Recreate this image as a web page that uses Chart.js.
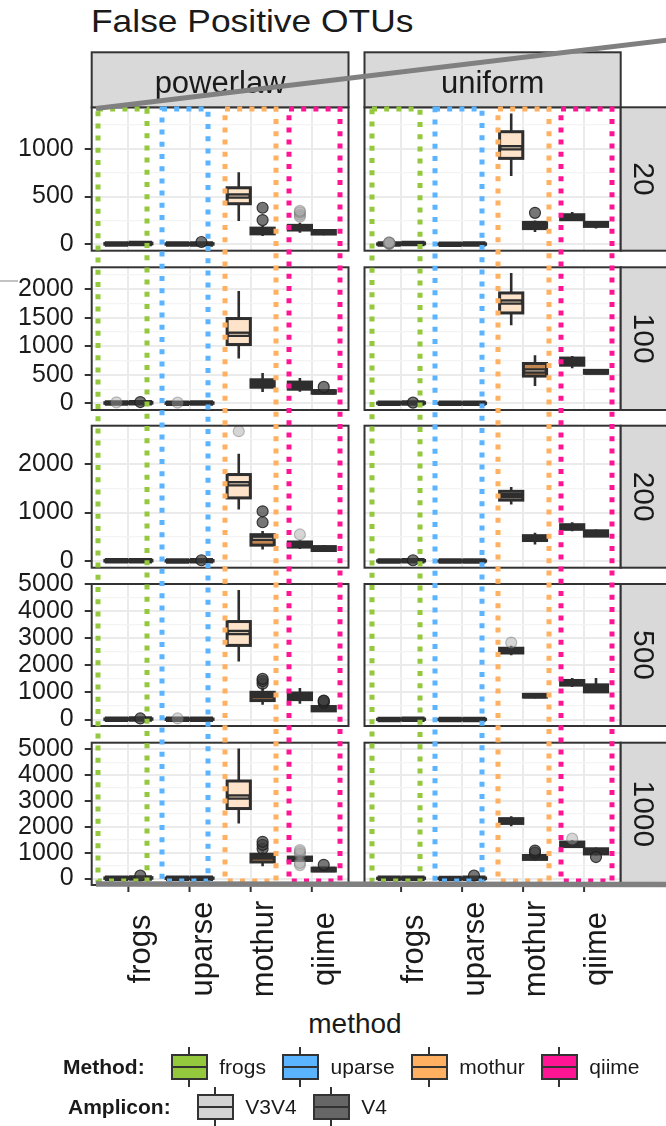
<!DOCTYPE html>
<html>
<head>
<meta charset="utf-8">
<script src="https://cdn.jsdelivr.net/npm/chart.js@4.4.1/dist/chart.umd.min.js"></script>
<style>
  body { margin: 0; background: #fff; width: 666px; height: 1126px; overflow: hidden; position: relative;
         font-family: 'Liberation Sans', Arial, sans-serif; color: #1a1a1a; }
  canvas { position: absolute; }
  #title { position: absolute; left: 90.5px; top: 6px; font-size: 30.5px; line-height: 1; white-space: nowrap;
           transform: scaleX(1.16); transform-origin: left top; }
  #xtitle { position: absolute; left: 355px; top: 1010px; font-size: 28px; line-height: 1; transform: translateX(-50%); }
  .lrow { position: absolute; display: flex; align-items: center; height: 26px; font-size: 21px; line-height: 26px; white-space: nowrap; }
  .lrow b { margin-right: 26px; }
  .key { position: relative; width: 37px; height: 26px; box-sizing: border-box; border: 2px solid #333; margin-right: 11.6px; }
  .key::before { content: ''; position: absolute; left: 0; right: 0; top: 50%; height: 2px; margin-top: -1px; background: #333; }
  .key::after { content: ''; position: absolute; left: 50%; width: 2px; margin-left: -1px; top: -9px; bottom: -9px;
                background: linear-gradient(#333 7px, transparent 7px, transparent calc(100% - 7px), #333 calc(100% - 7px)); }
  .lrow span.lab { margin-right: 16px; }
</style>
</head>
<body>
<div id="title">False Positive OTUs</div>
<div id="xtitle">method</div>
<script>
const methods = ['frogs', 'uparse', 'mothur', 'qiime'];
const distributions = ['powerlaw', 'uniform'];
const depths = ['20', '100', '200', '500', '1000'];
const amplicons = ['V3V4', 'V4'];

// y axis per depth row
const yLimits = [[-66, 1433], [-114, 2384], [-133, 2783], [-238, 5000], [-250, 5250]];
const yMajorTicks = [
  [0, 500, 1000],
  [0, 500, 1000, 1500, 2000],
  [0, 1000, 2000],
  [0, 1000, 2000, 3000, 4000, 5000],
  [0, 1000, 2000, 3000, 4000, 5000]
];

// box stats [lower whisker, q1, median, q3, upper whisker], rows = depths, cols = methods
const powerlawV3V4 = [
  [[0, 2, 5, 9, 15], [0, 1, 3, 6, 10], [244, 425, 505, 592, 755], [122, 150, 175, 199, 227]],
  [[0, 3, 8, 14, 25], [0, 2, 6, 10, 18], [787, 1032, 1210, 1487, 1970], [205, 250, 320, 375, 445]],
  [[0, 3, 8, 14, 25], [0, 2, 6, 10, 18], [1060, 1300, 1590, 1780, 2205], [250, 290, 345, 395, 430]],
  [[0, 5, 12, 20, 40], [0, 3, 8, 15, 30], [2145, 2735, 3210, 3615, 4780], [580, 735, 860, 980, 1165]],
  [[0, 5, 12, 22, 45], [0, 4, 10, 18, 35], [2125, 2705, 3150, 3770, 5025], [650, 700, 760, 830, 880]]
];
const powerlawV4 = [
  [[2, 5, 9, 13, 22], [0, 2, 5, 8, 14], [87, 110, 139, 170, 191], [95, 108, 128, 145, 155]],
  [[2, 6, 12, 20, 35], [0, 3, 7, 12, 20], [203, 285, 350, 415, 535], [165, 180, 200, 225, 240]],
  [[2, 6, 12, 20, 35], [0, 3, 8, 14, 25], [240, 330, 470, 545, 620], [190, 220, 260, 300, 335]],
  [[5, 10, 18, 28, 45], [0, 5, 10, 18, 30], [550, 700, 880, 1005, 1180], [300, 320, 400, 480, 560]],
  [[5, 12, 22, 35, 60], [0, 5, 12, 20, 35], [475, 640, 830, 940, 1040], [270, 290, 350, 400, 440]]
];
const uniformV3V4 = [
  [[0, 1, 3, 5, 8], [0, 1, 2, 4, 6], [714, 899, 1010, 1178, 1369], [244, 258, 288, 310, 338]],
  [[0, 2, 5, 9, 15], [0, 1, 3, 6, 10], [1370, 1585, 1775, 1935, 2285], [615, 670, 735, 795, 830]],
  [[0, 2, 5, 9, 15], [0, 1, 3, 6, 10], [1165, 1255, 1345, 1435, 1525], [615, 655, 705, 750, 800]],
  [[0, 3, 6, 10, 18], [0, 2, 5, 8, 14], [2370, 2455, 2550, 2630, 2720], [1200, 1270, 1370, 1440, 1530]],
  [[0, 3, 7, 12, 20], [0, 2, 5, 9, 15], [2020, 2130, 2225, 2315, 2405], [1180, 1235, 1325, 1410, 1480]]
];
const uniformV4 = [
  [[3, 6, 10, 14, 20], [0, 1, 3, 5, 8], [130, 165, 198, 230, 250], [165, 188, 210, 230, 238]],
  [[2, 5, 9, 14, 22], [0, 2, 4, 7, 12], [305, 480, 570, 700, 845], [515, 530, 553, 580, 600]],
  [[2, 5, 10, 15, 25], [0, 2, 4, 7, 12], [345, 425, 480, 525, 585], [500, 515, 580, 625, 650]],
  [[2, 6, 12, 18, 30], [0, 3, 6, 10, 16], [790, 830, 880, 930, 970], [990, 1020, 1150, 1280, 1530]],
  [[2, 6, 12, 20, 32], [0, 4, 10, 16, 28], [700, 740, 810, 890, 950], [900, 950, 1050, 1150, 1200]]
];

// outliers, rows = depths, cols = methods
const powerlawV3V4Out = [
  [[], [], [], [290, 310, 335, 350]],
  [[20], [15], [], []],
  [[], [], [2670], [550]],
  [[], [40], [], []],
  [[], [], [], [520, 600, 950, 1030, 1100]]
];
const powerlawV4Out = [
  [[], [25], [254, 383], []],
  [[25], [], [], [290]],
  [[], [20], [800, 1025], []],
  [[40], [], [1320, 1420, 1500], [620, 680, 700]],
  [[110], [], [1150, 1300, 1420], [530]]
];
const uniformV3V4Out = [
  [[6, 8, 10, 12, 14, 16, 18, 20], [], [], []],
  [[], [], [], []],
  [[], [], [], []],
  [[], [], [2840], []],
  [[], [], [], [1540]]
];
const uniformV4Out = [
  [[], [], [330], []],
  [[15], [], [], []],
  [[20], [], [], []],
  [[], [], [], []],
  [[], [110], [1000, 1080], [830]]
];

// highlighted method columns (x axis units), per distribution
const highlightSpans = [
  [[0.50, 1.30], [1.545, 2.305], [2.575, 3.41], [3.62, 4.455]],
  [[0.52, 1.305], [1.56, 2.33], [2.59, 3.42], [3.625, 4.465]]
];

const methodColors = ['#94C83D', '#5AB4FF', '#FFB060', '#FF1493'];
const ampliconColors = ['#D3D3D3', '#666666'];
const boxFills = [['#E4F1CE', '#D7ECFF', '#FDE3C9', '#6A4A5A'], ['#4A5A30', '#3A5A78', '#C48650', '#4A3040']];
const outlierFill = ['rgba(165,165,165,0.45)', 'rgba(60,60,60,0.7)'];
const outlierLine = ['rgba(110,110,110,0.45)', 'rgba(30,30,30,0.85)'];
const dodge = [-0.195, 0.195];
const boxHalf = 0.19;

// layout of the facet grid
const bandTop = [44, 259, 418, 566, 735];
const bandBottom = [259, 418, 576, 735, 1000];
const panelTop = [107.3, 267.3, 425.7, 584, 742.7];
const panelBottom = [250.7, 410, 567.7, 726, 885];
const colLeft = [0, 356], colRight = [356, 666];
const plotLeft = [91.7, 364.5], plotRight = [348.5, 620.7];

const FONT = "'Liberation Sans', Arial, sans-serif";
Chart.defaults.font.family = FONT;

function boxStats(row, col) {
  return col === 0 ? [powerlawV3V4[row], powerlawV4[row]] : [uniformV3V4[row], uniformV4[row]];
}
function outStats(row, col) {
  return col === 0 ? [powerlawV3V4Out[row], powerlawV4Out[row]] : [uniformV3V4Out[row], uniformV4Out[row]];
}
function noPadding(s) {
  s.paddingTop = 0; s.paddingBottom = 0; s.paddingLeft = 0; s.paddingRight = 0;
}

const boxPlugin = {
  id: 'boxes',
  beforeDatasetsDraw(chart, args, opts) {
    const {ctx, chartArea: a, scales: {x, y}} = chart;
    ctx.save();
    ctx.beginPath();
    ctx.rect(a.left, a.top, a.right - a.left, a.bottom - a.top);
    ctx.clip();
    boxStats(opts.row, opts.col).forEach((set, k) => {
      set.forEach((s, m) => {
        const c = m + 1 + dodge[k];
        const xl = x.getPixelForValue(c - boxHalf), xr = x.getPixelForValue(c + boxHalf), xc = x.getPixelForValue(c);
        const [lo, q1, med, q3, hi] = s.map(v => y.getPixelForValue(v));
        ctx.strokeStyle = '#2E2E2E';
        ctx.lineWidth = 2.6;
        ctx.beginPath(); ctx.moveTo(xc, lo); ctx.lineTo(xc, hi); ctx.stroke();
        ctx.fillStyle = boxFills[k][m];
        ctx.fillRect(xl, q3, xr - xl, q1 - q3);
        ctx.lineWidth = 3;
        ctx.strokeRect(xl, q3, xr - xl, q1 - q3);
        ctx.lineWidth = 5.5;
        ctx.beginPath(); ctx.moveTo(xl, med); ctx.lineTo(xr, med); ctx.stroke();
        if (q1 - q3 > 10) {
          ctx.strokeStyle = 'rgba(250,225,200,0.85)';
          ctx.lineWidth = 1;
          ctx.beginPath(); ctx.moveTo(xl + 2, med); ctx.lineTo(xr - 2, med); ctx.stroke();
        }
      });
    });
    ctx.restore();
  }
};

const framePlugin = {
  id: 'frame',
  afterDraw(chart, args, o) {
    const {ctx, chartArea: a, scales: {x}} = chart;
    ctx.save();
    ctx.strokeStyle = '#333';
    ctx.lineWidth = 2;
    ctx.strokeRect(a.left, a.top, a.right - a.left, a.bottom - a.top);
    ctx.font = '30px ' + FONT;
    if (o.row === 0) {
      ctx.fillStyle = '#D9D9D9';
      ctx.fillRect(a.left, a.top - 55, a.right - a.left, 55);
      ctx.strokeRect(a.left, a.top - 55, a.right - a.left, 55);
      ctx.fillStyle = '#1A1A1A';
      ctx.textAlign = 'center';
      ctx.font = '31px ' + FONT;
      ctx.fillText(distributions[o.col], (a.left + a.right) / 2, a.top - 14.3);
      ctx.font = '30px ' + FONT;
    }
    if (o.col === 1) {
      ctx.fillStyle = '#D9D9D9';
      ctx.fillRect(a.right, a.top, 47, a.bottom - a.top);
      ctx.strokeRect(a.right, a.top, 47, a.bottom - a.top);
      ctx.fillStyle = '#1A1A1A';
      ctx.translate(a.right + 13, (a.top + a.bottom) / 2);
      ctx.rotate(Math.PI / 2);
      ctx.textAlign = 'center';
      ctx.fillText(depths[o.row], 0, 0);
      ctx.setTransform(1, 0, 0, 1, 0, 0);
    }
    if (o.row === depths.length - 1) {
      ctx.font = '31px ' + FONT;
      ctx.fillStyle = '#1A1A1A';
      methods.forEach((name, i) => {
        const px = x.getPixelForValue(i + 1);
        ctx.strokeStyle = '#333';
        ctx.lineWidth = 2;
        ctx.beginPath(); ctx.moveTo(px, a.bottom); ctx.lineTo(px, a.bottom + 7); ctx.stroke();
        ctx.save();
        ctx.translate(px, a.bottom + 64);
        ctx.rotate(-Math.PI / 2);
        ctx.textAlign = 'center';
        ctx.fillText(name, 0, 22);
        ctx.restore();
      });
    }
    ctx.restore();
  }
};

function panelChart(row, col) {
  const cv = document.createElement('canvas');
  cv.width = colRight[col] - colLeft[col];
  cv.height = bandBottom[row] - bandTop[row];
  cv.style.left = colLeft[col] + 'px';
  cv.style.top = bandTop[row] + 'px';
  document.body.appendChild(cv);

  const major = yMajorTicks[row];
  const step = major[1] - major[0];
  const minor = major.map(v => v + step / 2).filter(v => v < yLimits[row][1]);
  const isMajor = v => major.includes(v);
  const outs = outStats(row, col);

  return new Chart(cv, {
    type: 'scatter',
    data: {
      datasets: amplicons.map((amp, k) => ({
        label: amp,
        data: outs[k].flatMap((vals, m) => vals.map(v => ({x: m + 1 + dodge[k], y: v}))),
        pointRadius: 5.5,
        pointBackgroundColor: outlierFill[k],
        pointBorderColor: outlierLine[k],
        pointBorderWidth: 1.2
      }))
    },
    options: {
      responsive: false,
      animation: false,
      devicePixelRatio: 1,
      events: [],
      layout: {
        padding: {
          left: col === 0 ? 0 : plotLeft[1] - colLeft[1],
          right: colRight[col] - plotRight[col],
          top: panelTop[row] - bandTop[row],
          bottom: bandBottom[row] - panelBottom[row]
        }
      },
      plugins: {
        legend: {display: false},
        tooltip: {enabled: false},
        boxes: {row, col},
        frame: {row, col}
      },
      scales: {
        x: {
          type: 'linear', min: 0.4, max: 4.6,
          afterBuildTicks: s => { s.ticks = methods.map((_, i) => ({value: i + 1})); },
          afterFit: s => { s.height = 0; noPadding(s); },
          ticks: {display: false},
          grid: {color: '#EBEBEB', lineWidth: 2, drawTicks: false},
          border: {display: false}
        },
        y: {
          type: 'linear', min: yLimits[row][0], max: yLimits[row][1],
          afterBuildTicks: s => { s.ticks = major.concat(minor).sort((p, q) => p - q).map(v => ({value: v})); },
          afterFit: s => { s.width = col === 0 ? plotLeft[0] : 0; noPadding(s); },
          ticks: {
            display: col === 0, autoSkip: false, padding: 11, color: '#1A1A1A',
            font: {size: 25}, callback: v => isMajor(v) ? String(v) : ''
          },
          grid: {
            color: c => c.tick && isMajor(c.tick.value) ? '#EBEBEB' : '#F4F4F4',
            lineWidth: c => c.tick && isMajor(c.tick.value) ? 2 : 1.2,
            drawTicks: col === 0, tickLength: 7, tickWidth: 2,
            tickColor: c => c.tick && isMajor(c.tick.value) ? '#333' : 'rgba(0,0,0,0)'
          },
          border: {display: false}
        }
      }
    },
    plugins: [boxPlugin, framePlugin]
  });
}

const charts = depths.map((d, row) => distributions.map((dist, col) => panelChart(row, col)));

// overlay: dotted method highlights and the grey collage strokes
const overlay = document.createElement('canvas');
overlay.width = 666; overlay.height = 1126;
overlay.style.left = '0px'; overlay.style.top = '0px';
document.body.appendChild(overlay);
const octx = overlay.getContext('2d');

distributions.forEach((dist, col) => {
  const first = charts[0][col], last = charts[depths.length - 1][col];
  const xs = first.scales.x;
  const y1 = bandTop[0] + first.chartArea.top + 1.5;
  const y2 = bandTop[depths.length - 1] + last.chartArea.bottom - 4.5;
  highlightSpans[col].forEach(([a, b], m) => {
    const x1 = Math.round(colLeft[col] + xs.getPixelForValue(a));
    const x2 = Math.round(colLeft[col] + xs.getPixelForValue(b));
    octx.strokeStyle = methodColors[m];
    octx.lineWidth = 5;
    octx.setLineDash([5, 7.2]);
    octx.strokeRect(x1, Math.round(y1), x2 - x1, Math.round(y2 - y1));
  });
});
octx.setLineDash([]);
octx.strokeStyle = '#808080';
octx.lineWidth = 5;
octx.beginPath(); octx.moveTo(96, 108.5); octx.lineTo(680, 38.5); octx.stroke();
octx.lineWidth = 5.5;
octx.beginPath(); octx.moveTo(96, 884); octx.lineTo(666, 884.5); octx.stroke();
octx.strokeStyle = '#9A9A9A';
octx.lineWidth = 1.2;
octx.beginPath(); octx.moveTo(0, 281); octx.lineTo(18, 281); octx.stroke();

// legend
function legendRow(title, names, colors, left, top) {
  const row = document.createElement('div');
  row.className = 'lrow';
  row.style.left = left + 'px';
  row.style.top = top + 'px';
  const b = document.createElement('b');
  b.textContent = title;
  row.appendChild(b);
  names.forEach((n, i) => {
    const key = document.createElement('span');
    key.className = 'key';
    key.style.background = colors[i];
    row.appendChild(key);
    const lab = document.createElement('span');
    lab.className = 'lab';
    lab.textContent = n;
    row.appendChild(lab);
  });
  document.body.appendChild(row);
}
legendRow('Method:', methods, methodColors, 63, 1054);
legendRow('Amplicon:', amplicons, ampliconColors, 68, 1094);
</script>
</body>
</html>
